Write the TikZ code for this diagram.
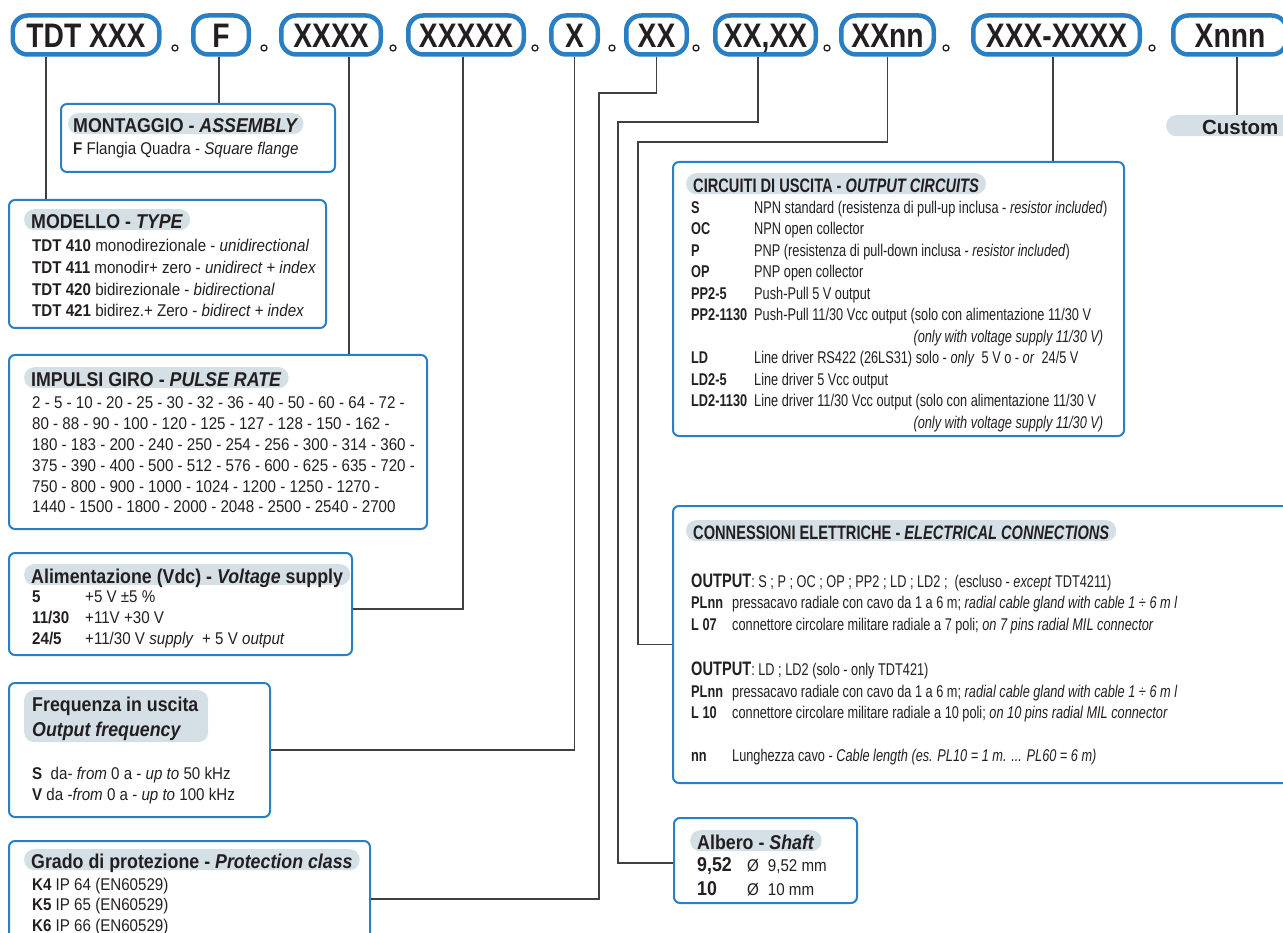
\documentclass[tikz,border=0pt]{standalone}
\usepackage{fontspec}
\setmainfont{Liberation Sans}[FakeStretch=0.89]
\newfontfamily\narrowfont{Liberation Sans}[FakeStretch=0.75]
\newfontfamily\topfont{Liberation Sans}[FakeStretch=0.83]
\newfontfamily\plainfont{Liberation Sans}
\definecolor{tdtblue}{RGB}{42,127,196}
\definecolor{pillgrey}{RGB}{213,223,230}
\definecolor{linegrey}{RGB}{64,64,64}
\definecolor{ink}{RGB}{35,31,32}
\def\en#1{\textit{#1}}
\def\lg#1{{\fontsize{20}{24}\selectfont\bfseries #1}}
\def\lgr#1{{\fontsize{19.5}{24}\selectfont\bfseries #1}}
\def\onlyv{\makebox[349pt][r]{\en{(only with voltage supply 11/30 V)}}}

\begin{document}
\begin{tikzpicture}[x=1pt, y=-1pt,
  every node/.style={text=ink},
  topbox/.style={draw=tdtblue, line width=4.5pt, rounded corners=15pt, minimum height=39pt, inner sep=0pt, text height=24.5pt, text depth=0pt, font=\topfont\fontsize{34}{38}\selectfont\bfseries},
  infobox/.style={draw=tdtblue, line width=2pt, rounded corners=6pt, anchor=north west, inner sep=0pt},
  pill/.style={fill=pillgrey, rounded corners=10pt, anchor=north west, inner xsep=7pt, inner ysep=0pt, text height=19.5pt, text depth=1.5pt, font=\fontsize{20}{24}\selectfont\bfseries},
  rpill/.style={pill, font=\narrowfont\fontsize{19.5}{24}\selectfont\bfseries},
  body/.style={anchor=base west, inner sep=0pt, font=\fontsize{17}{21.2}\selectfont},
  rbody/.style={body, font=\narrowfont\fontsize{17}{21.5}\selectfont},
  link/.style={draw=linegrey, line width=1.4pt},
  sepdot/.style={circle, draw=ink, line width=1.3pt, inner sep=0pt, minimum size=6pt}]
\useasboundingbox (0,0) rectangle (1283,933);

\node (TYPE) at (86,35) [topbox, minimum width=146.5pt] {TDT XXX};
\node (ASSY) at (221,35) [topbox, minimum width=55.5pt] {F};
\node (PULSE) at (331,35) [topbox, minimum width=99.5pt] {XXXX};
\node (SUPPLY) at (466,35) [topbox, minimum width=115.5pt] {XXXXX};
\node (FREQ) at (574.5,35) [topbox, minimum width=46.5pt] {X};
\node (PROT) at (656.5,35) [topbox, minimum width=60.5pt] {XX};
\node (SHAFT) at (765.5,35) [topbox, minimum width=100.5pt] {XX,XX};
\node (CONN) at (887.5,35) [topbox, minimum width=92.5pt] {XXnn};
\node (CIRC) at (1056.5,35) [topbox, minimum width=166.5pt] {XXX-XXXX};
\node (CUST) at (1230,35) [topbox, minimum width=113.5pt] {Xnnn};

\node (D1) at (175,48) [sepdot] {};
\node (D2) at (264,48) [sepdot] {};
\node (D3) at (393,48) [sepdot] {};
\node (D4) at (535,48) [sepdot] {};
\node (D5) at (612,48) [sepdot] {};
\node (D6) at (696,48) [sepdot] {};
\node (D7) at (827,48) [sepdot] {};
\node (D8) at (946,48) [sepdot] {};
\node (D9) at (1152,48) [sepdot] {};

\node (MONTAGGIO) at (60,103) [infobox, minimum width=274pt, minimum height=68pt] {};
\node (hMON) at (68,113) [pill, inner xsep=5pt] {MONTAGGIO - \en{ASSEMBLY}};
\node (tMON) at (73,155) [body] {\textbf{F} Flangia Quadra - \en{Square flange}};

\node (MODELLO) at (8,199) [infobox, minimum width=317pt, minimum height=128pt] {};
\node (hMOD) at (24,209) [pill] {MODELLO - \en{TYPE}};
\node (tMOD) at (32,251.7) [body, font=\fontsize{17}{21.7}\selectfont] {\begin{tabular}[t]{@{}l@{}}
  \textbf{TDT 410} monodirezionale - \en{unidirectional}\\
  \textbf{TDT 411} monodir+ zero - \en{unidirect + index}\\
  \textbf{TDT 420} bidirezionale - \en{bidirectional}\\
  \textbf{TDT 421} bidirez.+ Zero - \en{bidirect + index}\end{tabular}};

\node (IMPULSI) at (8,354) [infobox, minimum width=418pt, minimum height=174pt] {};
\node (hIMP) at (24,367) [pill] {IMPULSI GIRO - \en{PULSE RATE}};
\node (tIMP) at (32,409) [body, font=\fontsize{17}{20.8}\selectfont] {\begin{tabular}[t]{@{}l@{}}
  2 - 5 - 10 - 20 - 25 - 30 - 32 - 36 - 40 - 50 - 60 - 64 - 72 -\\
  80 - 88 - 90 - 100 - 120 - 125 - 127 - 128 - 150 - 162 -\\
  180 - 183 - 200 - 240 - 250 - 254 - 256 - 300 - 314 - 360 -\\
  375 - 390 - 400 - 500 - 512 - 576 - 600 - 625 - 635 - 720 -\\
  750 - 800 - 900 - 1000 - 1024 - 1200 - 1250 - 1270 -\\
  1440 - 1500 - 1800 - 2000 - 2048 - 2500 - 2540 - 2700\end{tabular}};

\node (ALIM) at (8,552) [infobox, minimum width=343pt, minimum height=102pt] {};
\node (hALI) at (24,564) [pill] {Alimentazione (Vdc) - \en{Voltage} supply};
\node (tALI) at (32,602) [body] {\begin{tabular}[t]{@{}p{53pt}@{}l@{}}
  \textbf{5} & +5 V ±5 \%\\
  \textbf{11/30} & +11V +30 V\\
  \textbf{24/5} & +11/30 V \en{supply}\ \ + 5 V \en{output}\end{tabular}};

\node (FREQUENZA) at (8,682) [infobox, minimum width=261pt, minimum height=134pt] {};
\node (hFRE) at (24,690) [pill, minimum width=184pt, minimum height=52pt] {};
\node (tFREh) at (32,711.7) [body, font=\fontsize{20}{25}\selectfont\bfseries] {\begin{tabular}[t]{@{}l@{}}
  Frequenza in uscita\\ \en{Output frequency}\end{tabular}};
\node (tFRE) at (32,779) [body] {\begin{tabular}[t]{@{}l@{}}
  \textbf{S}\ \ da- \en{from} 0 a - \en{up to} 50 kHz\\
  \textbf{V} da -\en{from} 0 a - \en{up to} 100 kHz\end{tabular}};

\node (GRADO) at (8,840) [infobox, minimum width=361pt, minimum height=116pt] {};
\node (hGRA) at (24,849) [pill] {Grado di protezione - \en{Protection class}};
\node (tGRA) at (32,890) [body, font=\fontsize{17}{20.7}\selectfont] {\begin{tabular}[t]{@{}l@{}}
  \textbf{K4} IP 64 (EN60529)\\
  \textbf{K5} IP 65 (EN60529)\\
  \textbf{K6} IP 66 (EN60529)\end{tabular}};

\node (CUSTOM) at (1166,115) [pill, minimum width=148pt, font=\plainfont\fontsize{20.5}{24}\selectfont\bfseries] {Custom};

\node (CIRCUITI) at (672,161) [infobox, minimum width=451pt, minimum height=274pt] {};
\node (hCIR) at (686,173) [rpill] {CIRCUITI DI USCITA - \en{OUTPUT CIRCUITS}};
\node (tCIR) at (691,213.3) [rbody] {\begin{tabular}[t]{@{}p{63pt}@{}l@{}}
  \textbf{S} & NPN standard (resistenza di pull-up inclusa - \en{resistor included})\\
  \textbf{OC} & NPN open collector\\
  \textbf{P} & PNP (resistenza di pull-down inclusa - \en{resistor included})\\
  \textbf{OP} & PNP open collector\\
  \textbf{PP2-5} & Push-Pull 5 V output\\
  \textbf{PP2-1130} & Push-Pull 11/30 Vcc output (solo con alimentazione 11/30 V\\
   & \onlyv\\
  \textbf{LD} & Line driver RS422 (26LS31) solo - \en{only}\ \ 5 V o - \en{or}\ \ 24/5 V\\
  \textbf{LD2-5} & Line driver 5 Vcc output\\
  \textbf{LD2-1130} & Line driver 11/30 Vcc output (solo con alimentazione 11/30 V\\
   & \onlyv\end{tabular}};

\node (CONNESSIONI) at (672,505) [infobox, minimum width=660pt, minimum height=277pt] {};
\node (hCON) at (686,520) [rpill] {CONNESSIONI ELETTRICHE - \en{ELECTRICAL CONNECTIONS}};
\node (tCON) at (691,587) [rbody] {\begin{tabular}[t]{@{}p{41pt}@{}l@{}}
  \multicolumn{2}{@{}l@{}}{\lgr{OUTPUT}: S ; P ; OC ; OP ; PP2 ; LD ; LD2 ;\ \ (escluso - \en{except} TDT4211)}\\
  \textbf{PLnn} & pressacavo radiale con cavo da 1 a 6 m; \en{radial cable gland with cable 1 ÷ 6 m l}\\
  \textbf{L 07} & connettore circolare militare radiale a 7 poli; \en{on 7 pins radial MIL connector}\\[24pt]
  \multicolumn{2}{@{}l@{}}{\lgr{OUTPUT}: LD ; LD2 (solo - only TDT421)}\\
  \textbf{PLnn} & pressacavo radiale con cavo da 1 a 6 m; \en{radial cable gland with cable 1 ÷ 6 m l}\\
  \textbf{L 10} & connettore circolare militare radiale a 10 poli; \en{on 10 pins radial MIL connector}\\[21.5pt]
  \textbf{nn} & Lunghezza cavo - \en{Cable length (es. PL10 = 1 m. ... PL60 = 6 m)}\end{tabular}};

\node (ALBERO) at (673,817) [infobox, minimum width=183pt, minimum height=85pt] {};
\node (hALB) at (690,830) [pill] {Albero - \en{Shaft}};
\node (tALB) at (697,871.7) [body, font=\fontsize{17}{23.3}\selectfont] {\begin{tabular}[t]{@{}p{50pt}@{}l@{}}
  \lg{9,52} & Ø\hspace{9pt}9,52 mm\\
  \lg{10} & Ø\hspace{9pt}10 mm\end{tabular}};

\coordinate (kPROT) at (599,93);
\coordinate (kSHAFT) at (618,122);
\coordinate (kCONN) at (638,142);

\draw [link] ([xshift=-40pt]TYPE.south) -- ([xshift=-40pt]TYPE.south |- MODELLO.north);
\draw [link] ([xshift=-2pt]ASSY.south) -- ([xshift=-2pt]ASSY.south |- MONTAGGIO.north);
\draw [link] ([xshift=18pt]PULSE.south) -- ([xshift=18pt]PULSE.south |- IMPULSI.north);
\draw [link] ([xshift=-3pt]SUPPLY.south) |- ([yshift=-5pt]ALIM.east);
\draw [link] (FREQ.south) |- (FREQUENZA.east);
\draw [link] (PROT.south) |- (kPROT) |- (GRADO.east);
\draw [link] ([xshift=-7.5pt]SHAFT.south) |- (kSHAFT) |- ([yshift=-2.5pt]ALBERO.west);
\draw [link] (CONN.south) |- (kCONN) |- (CONNESSIONI.west);
\draw [link] ([xshift=-3.5pt]CIRC.south) -- ([xshift=-3.5pt]CIRC.south |- CIRCUITI.north);
\draw [link] ([xshift=7pt]CUST.south) -- ([xshift=7pt]CUST.south |- CUSTOM.north);
\end{tikzpicture}
\end{document}
